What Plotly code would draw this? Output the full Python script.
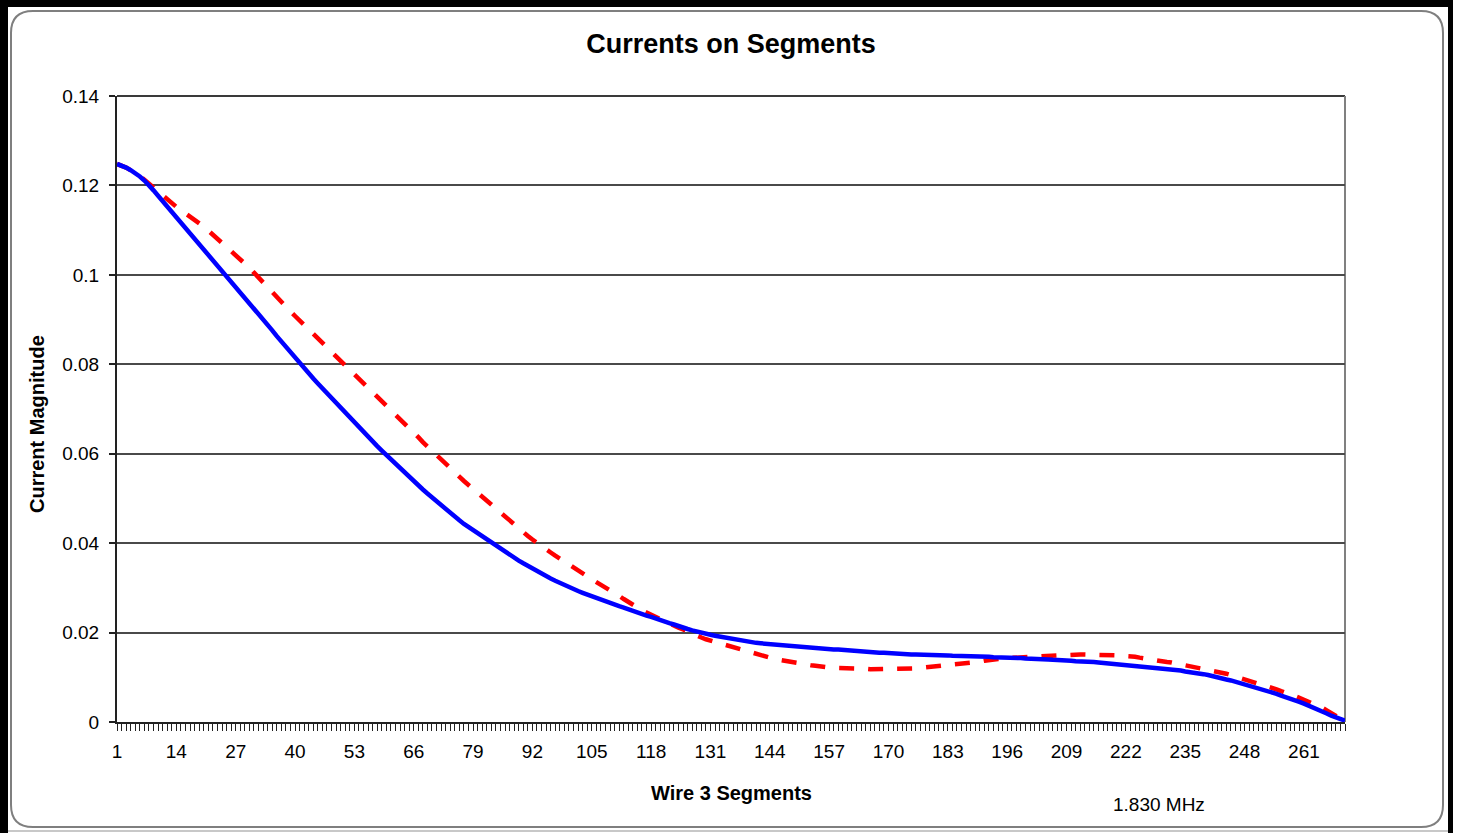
import plotly.graph_objects as go

# Segment numbers along wire 3
segments = list(range(1, 271))

# Current magnitude per segment: solid blue series
current_solid = [
    0.1248, 0.1245, 0.1240, 0.1234, 0.1228, 0.1220, 0.1211, 0.1201, 0.1189, 0.1177,
    0.1165, 0.1153, 0.1141, 0.1129, 0.1117, 0.1105, 0.1093, 0.1081, 0.1069, 0.1057,
    0.1045, 0.1034, 0.1022, 0.1011, 0.1000, 0.0988, 0.0976, 0.0963, 0.0951, 0.0938,
    0.0926, 0.0913, 0.0901, 0.0888, 0.0876, 0.0863, 0.0851, 0.0838, 0.0826, 0.0813,
    0.0801, 0.0790, 0.0779, 0.0768, 0.0757, 0.0746, 0.0735, 0.0724, 0.0713, 0.0702,
    0.0692, 0.0681, 0.0670, 0.0659, 0.0649, 0.0638, 0.0627, 0.0617, 0.0607, 0.0597,
    0.0587, 0.0577, 0.0567, 0.0557, 0.0548, 0.0538, 0.0529, 0.0520, 0.0511, 0.0502,
    0.0493, 0.0484, 0.0476, 0.0467, 0.0459, 0.0451, 0.0443, 0.0436, 0.0429, 0.0421,
    0.0414, 0.0407, 0.0400, 0.0393, 0.0386, 0.0380, 0.0373, 0.0367, 0.0361, 0.0355,
    0.0349, 0.0343, 0.0337, 0.0332, 0.0326, 0.0321, 0.0316, 0.0311, 0.0306, 0.0302,
    0.0297, 0.0293, 0.0289, 0.0285, 0.0281, 0.0278, 0.0274, 0.0270, 0.0267, 0.0263,
    0.0259, 0.0256, 0.0252, 0.0249, 0.0245, 0.0242, 0.0238, 0.0235, 0.0231, 0.0228,
    0.0224, 0.0221, 0.0218, 0.0214, 0.0211, 0.0208, 0.0205, 0.0202, 0.0199, 0.0197,
    0.0195, 0.0193, 0.0191, 0.0189, 0.0187, 0.0185, 0.0183, 0.0182, 0.0180, 0.0179,
    0.0177, 0.0176, 0.0175, 0.0174, 0.0173, 0.0172, 0.0171, 0.0170, 0.0169, 0.0168,
    0.0167, 0.0166, 0.0166, 0.0165, 0.0164, 0.0164, 0.0163, 0.0162, 0.0162, 0.0161,
    0.0160, 0.0160, 0.0159, 0.0158, 0.0158, 0.0157, 0.0156, 0.0155, 0.0155, 0.0154,
    0.0153, 0.0153, 0.0152, 0.0152, 0.0151, 0.0151, 0.0151, 0.0150, 0.0150, 0.0150,
    0.0149, 0.0149, 0.0149, 0.0148, 0.0148, 0.0148, 0.0147, 0.0147, 0.0147, 0.0146,
    0.0146, 0.0146, 0.0145, 0.0145, 0.0145, 0.0144, 0.0144, 0.0143, 0.0143, 0.0142,
    0.0142, 0.0141, 0.0141, 0.0140, 0.0140, 0.0139, 0.0139, 0.0138, 0.0138, 0.0137,
    0.0136, 0.0136, 0.0135, 0.0134, 0.0134, 0.0133, 0.0132, 0.0131, 0.0131, 0.0130,
    0.0129, 0.0128, 0.0128, 0.0127, 0.0126, 0.0125, 0.0124, 0.0123, 0.0122, 0.0120,
    0.0119, 0.0118, 0.0116, 0.0115, 0.0113, 0.0112, 0.0110, 0.0109, 0.0107, 0.0105,
    0.0102, 0.0100, 0.0098, 0.0095, 0.0093, 0.0090, 0.0088, 0.0085, 0.0083, 0.0080,
    0.0077, 0.0073, 0.0070, 0.0066, 0.0063, 0.0059, 0.0056, 0.0052, 0.0049, 0.0045,
    0.0041, 0.0037, 0.0032, 0.0028, 0.0023, 0.0019, 0.0014, 0.0010, 0.0006, 0.0003,
]

# Current magnitude per segment: dashed red series
current_dashed = [
    0.1248, 0.1245, 0.1240, 0.1234, 0.1228, 0.1221, 0.1213, 0.1204, 0.1195, 0.1186,
    0.1177, 0.1168, 0.1160, 0.1152, 0.1145, 0.1138, 0.1131, 0.1123, 0.1116, 0.1108,
    0.1099, 0.1090, 0.1081, 0.1072, 0.1063, 0.1054, 0.1045, 0.1035, 0.1026, 0.1016,
    0.1005, 0.0994, 0.0983, 0.0972, 0.0960, 0.0948, 0.0938, 0.0928, 0.0918, 0.0908,
    0.0898, 0.0889, 0.0879, 0.0869, 0.0859, 0.0849, 0.0839, 0.0829, 0.0820, 0.0810,
    0.0800, 0.0790, 0.0780, 0.0769, 0.0759, 0.0749, 0.0739, 0.0728, 0.0718, 0.0708,
    0.0698, 0.0688, 0.0677, 0.0667, 0.0657, 0.0647, 0.0637, 0.0626, 0.0616, 0.0606,
    0.0596, 0.0586, 0.0577, 0.0567, 0.0558, 0.0548, 0.0539, 0.0530, 0.0521, 0.0512,
    0.0503, 0.0494, 0.0485, 0.0476, 0.0467, 0.0458, 0.0450, 0.0441, 0.0433, 0.0424,
    0.0416, 0.0408, 0.0400, 0.0393, 0.0386, 0.0379, 0.0372, 0.0365, 0.0359, 0.0352,
    0.0345, 0.0339, 0.0332, 0.0326, 0.0319, 0.0313, 0.0307, 0.0301, 0.0296, 0.0289,
    0.0282, 0.0275, 0.0268, 0.0262, 0.0256, 0.0250, 0.0245, 0.0240, 0.0234, 0.0229,
    0.0225, 0.0221, 0.0216, 0.0211, 0.0207, 0.0202, 0.0198, 0.0193, 0.0189, 0.0185,
    0.0182, 0.0178, 0.0175, 0.0172, 0.0169, 0.0166, 0.0163, 0.0160, 0.0157, 0.0154,
    0.0151, 0.0148, 0.0145, 0.0143, 0.0141, 0.0139, 0.0137, 0.0135, 0.0133, 0.0131,
    0.0130, 0.0128, 0.0127, 0.0126, 0.0124, 0.0123, 0.0122, 0.0121, 0.0121, 0.0120,
    0.0120, 0.0119, 0.0119, 0.0119, 0.0119, 0.0118, 0.0118, 0.0118, 0.0118, 0.0118,
    0.0118, 0.0119, 0.0119, 0.0119, 0.0120, 0.0120, 0.0121, 0.0122, 0.0122, 0.0123,
    0.0124, 0.0125, 0.0126, 0.0127, 0.0128, 0.0129, 0.0130, 0.0132, 0.0133, 0.0135,
    0.0137, 0.0139, 0.0140, 0.0141, 0.0142, 0.0143, 0.0144, 0.0144, 0.0145, 0.0145,
    0.0146, 0.0146, 0.0147, 0.0147, 0.0148, 0.0148, 0.0149, 0.0149, 0.0150, 0.0150,
    0.0151, 0.0151, 0.0151, 0.0151, 0.0150, 0.0150, 0.0150, 0.0149, 0.0149, 0.0149,
    0.0148, 0.0148, 0.0147, 0.0146, 0.0144, 0.0142, 0.0141, 0.0139, 0.0138, 0.0136,
    0.0134, 0.0133, 0.0131, 0.0129, 0.0127, 0.0126, 0.0124, 0.0122, 0.0120, 0.0118,
    0.0116, 0.0113, 0.0111, 0.0108, 0.0105, 0.0102, 0.0099, 0.0096, 0.0093, 0.0090,
    0.0087, 0.0083, 0.0080, 0.0076, 0.0073, 0.0069, 0.0066, 0.0062, 0.0058, 0.0054,
    0.0050, 0.0046, 0.0042, 0.0037, 0.0032, 0.0026, 0.0020, 0.0014, 0.0007, 0.0001,
]

x_tick_values = [1, 14, 27, 40, 53, 66, 79, 92, 105, 118, 131, 144, 157, 170,
                 183, 196, 209, 222, 235, 248, 261]
x_tick_labels = ["1", "14", "27", "40", "53", "66", "79", "92", "105", "118", "131",
                 "144", "157", "170", "183", "196", "209", "222", "235", "248", "261"]
y_tick_values = [0, 0.02, 0.04, 0.06, 0.08, 0.10, 0.12, 0.14]
y_tick_labels = ["0", "0.02", "0.04", "0.06", "0.08", "0.1", "0.12", "0.14"]

# Page geometry (pixels) and helpers to place decorations in paper units
W, H = 1458, 833
ML, MR, MT, MB = 117, 113, 96, 111
PW, PH = W - ML - MR, H - MT - MB


def fx(px):
    return (px - ML) / PW


def fy(py):
    return (H - MB - py) / PH


FONT = "Liberation Sans, Arial, sans-serif"

fig = go.Figure()
fig.add_trace(go.Scatter(
    x=segments, y=current_dashed, mode="lines",
    line=dict(color="#FF0000", width=4.5, dash="15px,14px"),
    hoverinfo="x+y", showlegend=False,
))
fig.add_trace(go.Scatter(
    x=segments, y=current_solid, mode="lines",
    line=dict(color="#0000FF", width=4.5),
    hoverinfo="x+y", showlegend=False,
))

# Rounded chart-area outline
x0, x1, y0, y1, r = 11, 1443, 11, 827, 22
rounded = (
    f"M {fx(x0 + r)},{fy(y0)} L {fx(x1 - r)},{fy(y0)} "
    f"Q {fx(x1)},{fy(y0)} {fx(x1)},{fy(y0 + r)} "
    f"L {fx(x1)},{fy(y1 - r)} Q {fx(x1)},{fy(y1)} {fx(x1 - r)},{fy(y1)} "
    f"L {fx(x0 + r)},{fy(y1)} Q {fx(x0)},{fy(y1)} {fx(x0)},{fy(y1 - r)} "
    f"L {fx(x0)},{fy(y0 + r)} Q {fx(x0)},{fy(y0)} {fx(x0 + r)},{fy(y0)} Z"
)

shapes = [
    # outer black frame
    dict(type="rect", xref="paper", yref="paper", x0=fx(0), x1=fx(8), y0=fy(0), y1=fy(H),
         fillcolor="black", line=dict(width=0)),
    dict(type="rect", xref="paper", yref="paper", x0=fx(0), x1=fx(1453), y0=fy(0), y1=fy(7),
         fillcolor="black", line=dict(width=0)),
    dict(type="rect", xref="paper", yref="paper", x0=fx(1448), x1=fx(1453), y0=fy(0), y1=fy(H),
         fillcolor="black", line=dict(width=0)),
    dict(type="line", xref="paper", yref="paper", x0=fx(8), x1=fx(1448), y0=fy(831), y1=fy(831),
         line=dict(color="#c8c8c8", width=2)),
    dict(type="path", xref="paper", yref="paper", path=rounded,
         line=dict(color="#7f7f7f", width=2)),
    # top and right edges of the plot area
    dict(type="line", xref="paper", yref="paper", x0=0, x1=1, y0=1, y1=1,
         line=dict(color="#3a3a3a", width=1.8), layer="below"),
    dict(type="line", xref="paper", yref="paper", x0=1, x1=1, y0=0, y1=1,
         line=dict(color="#808080", width=2), layer="below"),
]

fig.update_layout(
    width=W, height=H,
    margin=dict(l=ML, r=MR, t=MT, b=MB, pad=0),
    paper_bgcolor="white", plot_bgcolor="white",
    font=dict(family=FONT, color="black", size=19),
    showlegend=False,
    title=dict(text="Currents on Segments", x=fx(731), xref="paper", xanchor="center",
               y=1 - 44 / H, yref="container", yanchor="middle",
               font=dict(family=FONT, size=27, weight="bold", color="black")),
    shapes=shapes,
    annotations=[
        dict(text="Wire 3 Segments", xref="paper", yref="paper", x=fx(731), y=fy(793),
             showarrow=False, xanchor="center", yanchor="middle",
             font=dict(family=FONT, size=20, weight="bold", color="black")),
        dict(text="Current Magnitude", xref="paper", yref="paper", x=fx(37), y=fy(424),
             showarrow=False, xanchor="center", yanchor="middle", textangle=-90,
             font=dict(family=FONT, size=20, weight="bold", color="black")),
        dict(text="1.830 MHz", xref="paper", yref="paper", x=fx(1159), y=fy(804),
             showarrow=False, xanchor="center", yanchor="middle",
             font=dict(family=FONT, size=19, color="black")),
    ],
)

fig.update_xaxes(
    range=[1, 270], showgrid=False, zeroline=False,
    showline=True, linecolor="#222222", linewidth=2,
    tickmode="array", tickvals=x_tick_values, ticktext=x_tick_labels,
    ticks="outside", ticklen=7, tickwidth=1, tickcolor="#222222",
    minor=dict(ticks="outside", ticklen=7, tickwidth=1, tickcolor="#222222",
               dtick=1, tick0=1, showgrid=False),
    tickfont=dict(family=FONT, size=19, color="black"),
    ticklabelstandoff=4,
)
fig.update_yaxes(
    range=[0, 0.14], zeroline=False,
    showgrid=True, gridcolor="#4a4a4a", gridwidth=1.6,
    showline=True, linecolor="#222222", linewidth=2,
    tickmode="array", tickvals=y_tick_values, ticktext=y_tick_labels,
    ticks="outside", ticklen=6, tickwidth=2, tickcolor="#222222",
    tickfont=dict(family=FONT, size=19, color="black"),
    ticklabelstandoff=6,
)

fig.write_html("out.html")
